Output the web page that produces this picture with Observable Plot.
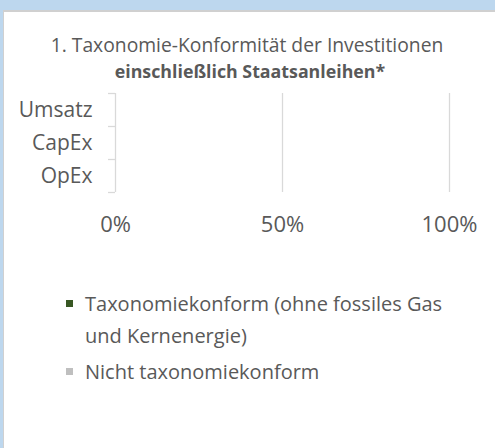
<!DOCTYPE html>
<html>
<head>
<meta charset="utf-8">
<script src="https://cdn.jsdelivr.net/npm/d3@7"></script>
<script src="https://cdn.jsdelivr.net/npm/@observablehq/plot@0.6"></script>
<style>
  html, body { margin: 0; padding: 0; }
  body { width: 495px; height: 448px; background: #bdd7ee; position: relative; overflow: hidden; font-family: "Open Sans", sans-serif; color: #595959; }
  #panel { position: absolute; left: 3px; top: 10px; width: 492px; height: 438px; background: #ffffff; border-left: 1px solid #d0d0d0; border-top: 2px solid #d0d0d0; box-sizing: border-box; }
  #title { position: absolute; left: 0; width: 500px; top: 32px; text-align: center; }
  #title .l1 { font-size: 19.3px; line-height: 26px; margin-left: -6px; }
  #title .l2 { font-size: 17.8px; line-height: 26px; font-weight: 700; }
  #chart { position: absolute; left: 0; top: 0; }
  #legend { position: absolute; left: 66px; top: 288px; font-size: 20px; line-height: 32px; }
  .item { display: flex; align-items: flex-start; margin-bottom: 4px; }
  .sw { width: 7px; height: 7px; margin-top: 12px; margin-right: 12px; flex: none; }
</style>
</head>
<body>
<div id="panel"></div>
<div id="title"><div class="l1">1. Taxonomie-Konformität der Investitionen</div><div class="l2">einschließlich Staatsanleihen*</div></div>
<div id="chart"></div>
<div id="legend"></div>
<script>
const categories = ["Umsatz", "CapEx", "OpEx"];
const seriesNames = ["Taxonomiekonform (ohne fossiles Gas und Kernenergie)", "Nicht taxonomiekonform"];
const seriesLegendLines = [["Taxonomiekonform (ohne fossiles Gas", "und Kernenergie)"], ["Nicht taxonomiekonform"]];
const taxonomyAligned = [0, 0, 0];
const notAligned = [0, 0, 0];
const xTicks = [0, 50, 100];
const xTickLabels = ["0%", "50%", "100%"];
const seriesColors = ["#385723", "#bfbfbf"];

const rows = [];
categories.forEach((c, i) => {
  rows.push({cat: c, series: seriesNames[0], value: taxonomyAligned[i]});
  rows.push({cat: c, series: seriesNames[1], value: notAligned[i]});
});

const W = 495, H = 250, mT = 93, mB = 58, mL = 115, mR = 46;
const bw = (H - mT - mB) / categories.length;
const grid = "#d9d9d9";

const chart = Plot.plot({
  width: W, height: H,
  marginTop: mT, marginBottom: mB, marginLeft: mL, marginRight: mR,
  style: {fontFamily: "'Open Sans', sans-serif", fontSize: "22px", color: "#595959", background: "transparent", overflow: "visible"},
  x: {domain: [0, 100], ticks: xTicks, label: null},
  y: {domain: categories, padding: 0, label: null},
  color: {domain: seriesNames, range: seriesColors},
  marks: [
    Plot.ruleX([50, 100], {stroke: grid, strokeWidth: 1.3}),
    Plot.ruleX([0], {stroke: grid, strokeWidth: 1.3}),
    Plot.ruleY(categories, {y: d => d, x1: -2.1, x2: 0, dy: -bw / 2, stroke: grid, strokeWidth: 1.3}),
    Plot.ruleY([categories[categories.length - 1]], {y: d => d, x1: -2.1, x2: 0, dy: bw / 2, stroke: grid, strokeWidth: 1.3}),
    Plot.barX(rows, Plot.stackX({y: "cat", x: "value", fill: "series", insetTop: 8, insetBottom: 8})),
    Plot.axisY({tickSize: 0, tickPadding: 23, fontSize: 21, label: null}),
    Plot.axisX({ticks: xTicks, tickFormat: (d) => xTickLabels[xTicks.indexOf(d)], tickSize: 0, tickPadding: 24, fontSize: 22, label: null})
  ]
});
document.getElementById("chart").appendChild(chart);

const legend = document.getElementById("legend");
seriesLegendLines.forEach((lines, i) => {
  const item = document.createElement("div");
  item.className = "item";
  const sw = document.createElement("span");
  sw.className = "sw";
  sw.style.background = seriesColors[i];
  const txt = document.createElement("span");
  lines.forEach((l, j) => {
    if (j) txt.appendChild(document.createElement("br"));
    txt.appendChild(document.createTextNode(l));
  });
  item.appendChild(sw);
  item.appendChild(txt);
  legend.appendChild(item);
});
</script>
</body>
</html>
